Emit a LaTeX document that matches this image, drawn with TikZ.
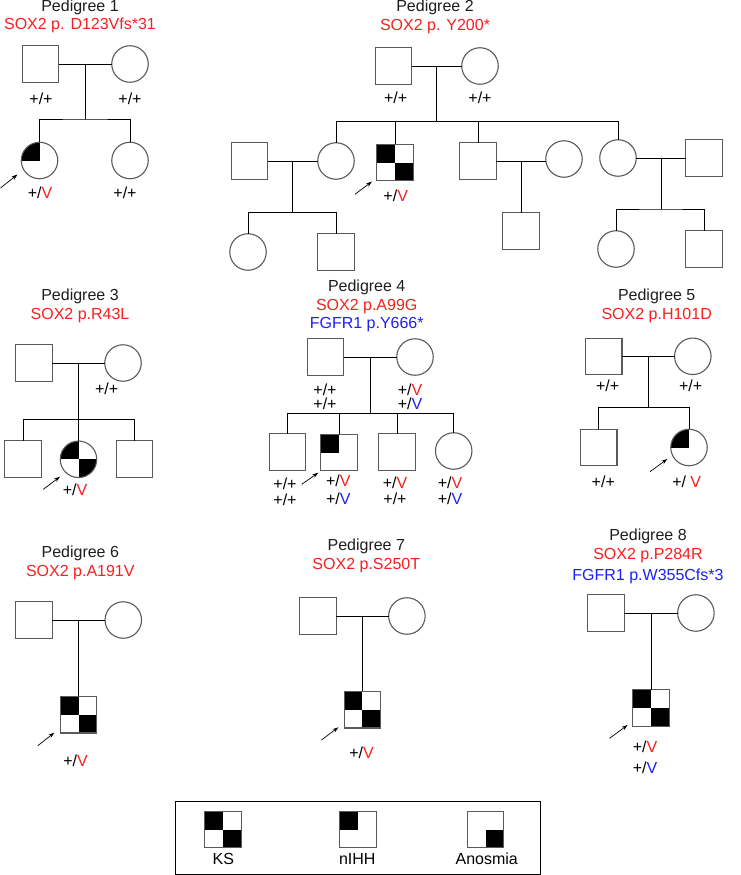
\documentclass[tikz,border=0pt]{standalone}
\usepackage{fontspec}
\setmainfont{Liberation Sans}
\usetikzlibrary{arrows.meta}
\definecolor{vred}{RGB}{250,30,30}
\definecolor{vblue}{RGB}{30,30,250}
\definecolor{edgegray}{RGB}{90,90,90}
\definecolor{titlegray}{RGB}{30,30,30}
\newcommand\gtV[1]{+/\textcolor{#1}{V}}
\begin{document}
\begin{tikzpicture}[x=1pt,y=-1pt,
  font=\fontsize{16}{19}\selectfont,
  ind/.style={draw=edgegray, line width=1.1pt, minimum size=36.5pt, inner sep=0pt, outer sep=0pt, fill=white},
  male/.style={ind, rectangle},
  female/.style={ind, circle},
  ks/.style={path picture={\fill[black] (path picture bounding box.center) rectangle (path picture bounding box.north west); \fill[black] (path picture bounding box.center) rectangle (path picture bounding box.south east);}},
  nihh/.style={path picture={\fill[black] (path picture bounding box.center) rectangle (path picture bounding box.north west);}},
  anos/.style={path picture={\fill[black] (path picture bounding box.center) rectangle (path picture bounding box.south east);}},
  conn/.style={draw=black, line width=0.9pt},
  proband/.style={-{Stealth[length=6pt,width=4pt]}, line width=0.7pt},
  title/.style={anchor=base, inner sep=0pt, text=titlegray},
  mut/.style={anchor=base, inner sep=0pt, text=vred},
  mutb/.style={anchor=base, inner sep=0pt, text=vblue},
  geno/.style={inner sep=0pt},
]
\useasboundingbox (0,0) rectangle (741,875);

% ---------------- Pedigree 1
\node[title] (t1) at (80,12) {Pedigree 1};
\node[mut] (v1) at (80,30) {SOX2 p. D123Vfs*31};
\node[male] (f1) at (40.5,64) {};
\node[female] (m1) at (130,64) {};
\coordinate (j1) at (85.25,64);
\coordinate (s1) at (85.25,119);
\node[female,nihh] (c11) at (39.5,160.5) {};
\node[female] (c12) at (130,160.5) {};
\draw[conn] (f1) -- (m1);
\draw[conn] (j1) -- (s1);
\draw[conn] (c11.north) |- (s1) -| (c12.north);
\node[geno] (l11) at (41,99) {+/+};
\node[geno] (l12) at (130,99) {+/+};
\node[geno] (l13) at (40,193) {\gtV{vred}};
\node[geno] (l14) at (125,193) {+/+};
\coordinate (a1s) at (0.5,188);
\coordinate (a1e) at (17.5,174.5);
\draw[proband] (a1s) -- (a1e);

% ---------------- Pedigree 2
\node[title] (t2) at (435,12) {Pedigree 2};
\node[mut] (v2) at (435,30.5) {SOX2 p. Y200*};
\node[male] (f2) at (393.5,66) {};
\node[female] (m2) at (480,66) {};
\coordinate (j2) at (436.75,66);
\coordinate (s2) at (436.75,121.7);
\node[female] (c21) at (336,161) {};
\node[male,ks] (c22) at (395,162.5) {};
\node[male] (c23) at (478,161) {};
\node[female] (c24) at (618,158) {};
\node[male] (sp21) at (249.5,161) {};
\node[female] (sp23) at (564,159) {};
\node[male] (sp24) at (704,158) {};
\draw[conn] (f2) -- (m2);
\draw[conn] (j2) -- (s2);
\draw[conn] (c21.north) |- (s2) -| (c24.north);
\draw[conn] (c22.north) -- (c22.north |- s2);
\draw[conn] (c23.north) -- (c23.north |- s2);
\draw[conn] (sp21) -- (c21);
\draw[conn] (c23.east) -- (c23.east -| sp23.west);
\draw[conn] (c24) -- (sp24);
\coordinate (j21) at (292.75,161);
\coordinate (s21) at (292.75,212.3);
\node[female] (gc211) at (248,252) {};
\node[male] (gc212) at (336,252) {};
\draw[conn] (j21) -- (s21);
\draw[conn] (gc211.north) |- (s21) -| (gc212.north);
\coordinate (j23) at (521,161);
\node[male] (gc231) at (521,231) {};
\draw[conn] (j23) -- (gc231.north);
\coordinate (j24) at (661,158);
\coordinate (s24) at (661,209);
\node[female] (gc241) at (616,249) {};
\node[male] (gc242) at (704,249) {};
\draw[conn] (j24) -- (s24);
\draw[conn] (gc241.north) |- (s24) -| (gc242.north);
\node[geno] (l21) at (395.7,97.3) {+/+};
\node[geno] (l22) at (480,97.3) {+/+};
\node[geno] (l23) at (395.7,195.7) {\gtV{vred}};
\coordinate (a2s) at (355,194.3);
\coordinate (a2e) at (372,181.5);
\draw[proband] (a2s) -- (a2e);

% ---------------- Pedigree 3
\node[title] (t3) at (80,300.7) {Pedigree 3};
\node[mut] (v3) at (80,319) {SOX2 p.R43L};
\node[male] (f3) at (34,363) {};
\node[female] (m3) at (123,363) {};
\coordinate (j3) at (78.5,363);
\coordinate (s3) at (78.5,419.3);
\node[male] (c31) at (23,459) {};
\node[female,ks] (c32) at (78.5,459.3) {};
\node[male] (c33) at (134.5,459) {};
\draw[conn] (f3) -- (m3);
\draw[conn] (j3) -- (c32.north);
\draw[conn] (c31.north) |- (s3) -| (c33.north);
\node[geno] (l31) at (106.7,388.3) {+/+};
\node[geno] (l32) at (75,490) {\gtV{vred}};
\coordinate (a3s) at (43.3,489.3);
\coordinate (a3e) at (60,476.7);
\draw[proband] (a3s) -- (a3e);

% ---------------- Pedigree 4
\node[title] (t4) at (366.7,291) {Pedigree 4};
\node[mut] (v4) at (366.7,310) {SOX2 p.A99G};
\node[mutb] (w4) at (366.7,328.3) {FGFR1 p.Y666*};
\node[male] (f4) at (325.3,357) {};
\node[female] (m4) at (415,357) {};
\coordinate (j4) at (370.15,357);
\coordinate (s4) at (370.15,413.3);
\node[male] (c41) at (287.5,452) {};
\node[male,nihh] (c42) at (339,452.5) {};
\node[male] (c43) at (397,452) {};
\node[female] (c44) at (453.7,451) {};
\draw[conn] (f4) -- (m4);
\draw[conn] (j4) -- (s4);
\draw[conn] (c41.north) |- (s4) -| (c44.north);
\draw[conn] (c42.north) -- (c42.north |- s4);
\draw[conn] (c43.north) -- (c43.north |- s4);
\node[geno] (l41) at (325,389.3) {+/+};
\node[geno] (l42) at (325,404) {+/+};
\node[geno] (l43) at (410,389.3) {\gtV{vred}};
\node[geno] (l44) at (410,404) {\gtV{vblue}};
\node[geno] (l45) at (285,483.3) {+/+};
\node[geno] (l46) at (285,500) {+/+};
\node[geno] (l47) at (338.3,480.7) {\gtV{vred}};
\node[geno] (l48) at (338.3,498.3) {\gtV{vblue}};
\node[geno] (l49) at (395,482.7) {\gtV{vred}};
\node[geno] (l410) at (395,498.3) {+/+};
\node[geno] (l411) at (450,482.7) {\gtV{vred}};
\node[geno] (l412) at (450,498.3) {\gtV{vblue}};
\coordinate (a4s) at (301.7,484.3);
\coordinate (a4e) at (318.3,472.7);
\draw[proband] (a4s) -- (a4e);

% ---------------- Pedigree 5
\node[title] (t5) at (656.7,300.7) {Pedigree 5};
\node[mut] (v5) at (656.7,319) {SOX2 p.H101D};
\node[male] (f5) at (603.7,356.3) {};
\node[female] (m5) at (692.8,356.3) {};
\coordinate (j5) at (648.25,356.3);
\coordinate (s5) at (648.25,407.3);
\node[male] (c51) at (598.7,447.5) {};
\node[female,nihh] (c52) at (689,447.5) {};
\draw[conn] (f5) -- (m5);
\draw[conn] (j5) -- (s5);
\draw[conn] (c51.north) |- (s5) -| (c52.north);
\node[geno] (l51) at (607.7,386) {+/+};
\node[geno] (l52) at (690.7,386) {+/+};
\node[geno] (l53) at (603.3,481.7) {+/+};
\node[geno] (l54) at (686.7,481.7) {+/ \textcolor{vred}{V}};
\coordinate (a5s) at (650,471.7);
\coordinate (a5e) at (667.3,459);
\draw[proband] (a5s) -- (a5e);

% ---------------- Pedigree 6
\node[title] (t6) at (80.3,557.3) {Pedigree 6};
\node[mut] (v6) at (80.3,576) {SOX2 p.A191V};
\node[male] (f6) at (33.8,620) {};
\node[female] (m6) at (123.3,620) {};
\coordinate (j6) at (78.55,620);
\node[male,ks] (c61) at (78.55,714.7) {};
\draw[conn] (f6) -- (m6);
\draw[conn] (j6) -- (c61.north);
\node[geno] (l61) at (75.6,761) {\gtV{vred}};
\coordinate (a6s) at (37.8,745.7);
\coordinate (a6e) at (54.3,732.7);
\draw[proband] (a6s) -- (a6e);

% ---------------- Pedigree 7
\node[title] (t7) at (366.3,550.7) {Pedigree 7};
\node[mut] (v7) at (366.3,569.3) {SOX2 p.S250T};
\node[male] (f7) at (317.8,616) {};
\node[female] (m7) at (406.9,616) {};
\coordinate (j7) at (362.35,616);
\node[male,ks] (c71) at (362.35,709.7) {};
\draw[conn] (f7) -- (m7);
\draw[conn] (j7) -- (c71.north);
\node[geno] (l71) at (361.5,752.3) {\gtV{vred}};
\coordinate (a7s) at (321.4,740);
\coordinate (a7e) at (338.4,727.3);
\draw[proband] (a7s) -- (a7e);

% ---------------- Pedigree 8
\node[title] (t8) at (648,540.7) {Pedigree 8};
\node[mut] (v8) at (648,559.3) {SOX2 p.P284R};
\node[mutb] (w8) at (648,580) {FGFR1 p.W355Cfs*3};
\node[male] (f8) at (606.1,613) {};
\node[female] (m8) at (695.9,613) {};
\coordinate (j8) at (651,613);
\node[male,ks] (c81) at (651,708) {};
\draw[conn] (f8) -- (m8);
\draw[conn] (j8) -- (c81.north);
\node[geno] (l81) at (645,746.7) {\gtV{vred}};
\node[geno] (l82) at (645,768) {\gtV{vblue}};
\coordinate (a8s) at (609.6,738.3);
\coordinate (a8e) at (627.6,725);
\draw[proband] (a8s) -- (a8e);

% ---------------- Legend
\node[draw=black, line width=0.9pt, minimum width=365pt, minimum height=72.6pt, inner sep=0pt] (legend) at (357.5,838) {};
\node[male,ks] (lks) at (223,829.5) {};
\node[male,nihh] (lnihh) at (357.8,829.5) {};
\node[male,anos] (lanos) at (485.5,829.5) {};
\node[anchor=base, inner sep=0pt] (tks) at (223.3,864) {KS};
\node[anchor=base, inner sep=0pt] (tnihh) at (357.3,864) {nIHH};
\node[anchor=base, inner sep=0pt] (tanos) at (486.7,864) {Anosmia};
\end{tikzpicture}
\end{document}
